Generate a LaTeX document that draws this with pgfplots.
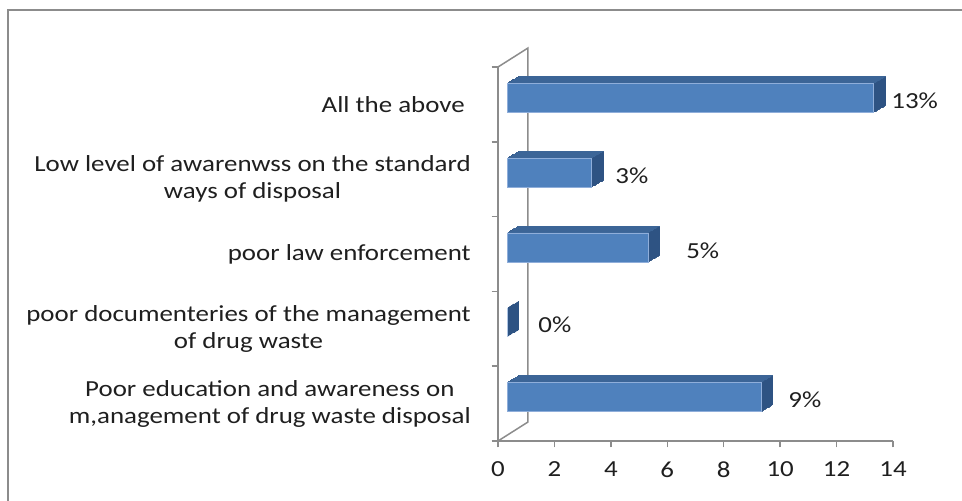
\documentclass[border=0pt]{standalone}
\usepackage{pgfplots}
\pgfplotsset{compat=1.18}
\usepackage{pgfplotstable}
\usepackage{fontspec}
\setmainfont{Carlito}[FakeStretch=1.17]
\definecolor{barfront}{HTML}{4F81BD}
\definecolor{bartop}{HTML}{3C6597}
\definecolor{barside}{HTML}{2E5383}
\definecolor{baredge}{HTML}{8FAEDA}
\definecolor{axgray}{HTML}{8C8C8C}

\pgfplotstableread{
cat val lx
0 9 10.28
1 0 1.42
2 5 6.66
3 3 4.15
4 13 13.93
}\datatable

\begin{document}
\fontsize{11.5}{13.4}\selectfont
\begin{tikzpicture}
\useasboundingbox (0pt,0pt) rectangle (481pt,250.5pt);
\draw[axgray, line width=1pt] (4pt,0pt) -- (4pt,245.5pt) -- (481pt,245.5pt);
\begin{axis}[
  at={(249pt,30pt)}, anchor=south west,
  scale only axis, width=197.5pt, height=187pt,
  xmin=0, xmax=14, ymin=-0.5, ymax=4.5,
  clip=false,
  axis x line*=bottom, axis y line*=left,
  axis line style={axgray, line width=0.75pt},
  tick style={axgray, line width=0.75pt},
  tick align=outside,
  major tick length=3.25pt,
  xtick={0,2,...,14},
  ytick={-0.5,0.5,...,4.5}, yticklabels={},
  extra y ticks={0,1,2,3,4},
  extra y tick labels={{Poor education and awareness on\\m,anagement of drug waste disposal},{poor documenteries of the management\\of drug waste},{poor law enforcement},{Low level of awarenwss on the standard\\ways of disposal},{All the above\kern3pt}},
  extra y tick style={major tick length=0pt, yticklabel style={align=center}},
  /pgf/number format/assume math mode=true,
  ticklabel style={font=\fontsize{11.5}{13.4}\selectfont, text=black!88},
  yticklabel shift=9.6pt,
  xticklabel shift=3.2pt,
]
\addplot[axgray, line width=0.75pt, mark=none] coordinates {(0,4.5) (1.063,4.754) (1.063,-0.246) (0,-0.5)};
\pgfplotsinvokeforeach{10,9,...,1}{
  \addplot[xbar, bar width=14.5pt, bar shift=0pt, fill=barside, draw=barside, line width=0.6pt, line join=bevel,
    transform canvas={shift={({4.5pt+0.585pt*#1},{3.25pt+0.335pt*#1})}}]
    table[x=val, y=cat] {\datatable};
}
\pgfplotsinvokeforeach{10,9,...,1}{
  \addplot[xbar, bar width=0pt, bar shift=0pt, draw=bartop, line width=0.5pt, line join=bevel,
    transform canvas={shift={({4.5pt+0.585pt*#1},{10.5pt+0.335pt*#1})}}]
    table[x=val, y=cat] {\datatable};
}
\addplot[xbar, bar width=14.5pt, bar shift=0pt, fill=barfront, draw=baredge, line width=0.3pt,
  transform canvas={shift={(4.5pt,3.25pt)}}]
  table[x=val, y=cat] {\datatable};
\addplot[draw=none, mark=none, point meta=explicit,
  nodes near coords={\pgfmathprintnumber{\pgfplotspointmeta}\%},
  nodes near coords style={anchor=west, inner sep=0pt, font=\fontsize{11.5}{13.4}\selectfont, text=black!88}]
  table[x=lx, y expr=\thisrow{cat}+0.05, meta=val] {\datatable};
\end{axis}
\end{tikzpicture}
\end{document}
